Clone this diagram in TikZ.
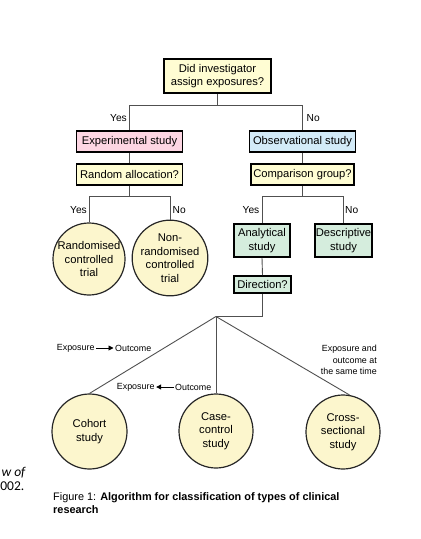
\documentclass[tikz,border=0pt]{standalone}
\usepackage{fontspec}
\setmainfont{Liberation Sans}
\newfontfamily\calibfont{Carlito}
\usetikzlibrary{arrows.meta}
\definecolor{yelfill}{HTML}{FFFDD3}
\definecolor{pinkfill}{HTML}{FDD6E3}
\definecolor{bluefill}{HTML}{D3EBF8}
\definecolor{greenfill}{HTML}{D5EDDD}
\definecolor{circfill}{HTML}{FCF6CD}
\definecolor{linecol}{HTML}{505050}
\begin{document}
\begin{tikzpicture}[x=1bp,y=-1bp,
  mainfont/.style={font=\fontsize{11.2bp}{13.5bp}\selectfont},
  qbox/.style={draw=black, line width=1.8bp, inner sep=0pt, align=center, mainfont},
  circ/.style={circle, draw=black!85, line width=1.2bp, fill=circfill, inner sep=0pt, align=center, mainfont},
  conn/.style={draw=linecol, line width=0.9bp},
  yn/.style={inner sep=0pt, font=\fontsize{10.2bp}{12bp}\selectfont},
  lab/.style={inner sep=1.5bp, font=\fontsize{8.9bp}{11.5bp}\selectfont},
  arr/.style={draw=black, line width=0.9bp, -{Triangle[length=5bp,width=5bp]}}
]
\useasboundingbox (0,0) rectangle (420,539);

% top question
\node[qbox, fill=yelfill, minimum width=107bp, minimum height=34bp] (q1) at (217.5,76) {Did investigator\\assign exposures?};
\node[qbox, fill=pinkfill, minimum width=106bp, minimum height=21bp] (exp) at (129.5,141.5) {Experimental study};
\node[qbox, fill=bluefill, minimum width=106bp, minimum height=21bp] (obs) at (302.5,141.5) {Observational study};
\node[qbox, fill=yelfill, minimum width=106bp, minimum height=21bp] (rand) at (129.5,174.5) {Random allocation?};
\node[qbox, fill=yelfill, minimum width=103bp, minimum height=21bp] (comp) at (302.5,174.5) {Comparison group?};

\coordinate (s1) at (217.5,105);
\draw[conn] (q1.south) -- (s1);
\draw[conn] (s1) -| (exp.north);
\draw[conn] (s1) -| (obs.north);
\node[yn, anchor=east] (yes1) at (127,118) {Yes};
\node[yn, anchor=west] (no1) at (306.5,118) {No};

\draw[conn] (exp.south) -- (rand.north);
\draw[conn] (obs.south) -- (comp.north);

% second level
\node[circ, minimum size=72bp] (rct) at (89,259) {Randomised\\controlled\\trial};
\node[circ, minimum size=74bp] (nrct) at (170,258) {Non-\\randomised\\controlled\\trial};
\node[qbox, fill=greenfill, minimum width=56bp, minimum height=33bp] (ana) at (262,240.5) {Analytical\\study};
\node[qbox, fill=greenfill, minimum width=57bp, minimum height=33bp] (desc) at (343.5,240.5) {Descriptive\\study};
\node[qbox, fill=greenfill, minimum width=57bp, minimum height=17bp] (dir) at (262.5,284.5) {Direction?};

\coordinate (s2) at (129.5,196);
\coordinate (s3) at (302.5,196);
\draw[conn] (rand.south) -- (s2);
\draw[conn] (s2) -| (rct.north);
\draw[conn] (s2) -| (nrct.north);
\draw[conn] (comp.south) -- (s3);
\draw[conn] (s3) -| (ana.north);
\draw[conn] (s3) -| (desc.north);
\node[yn, anchor=east] (yes2) at (87,210) {Yes};
\node[yn, anchor=west] (no2) at (172.5,210) {No};
\node[yn, anchor=east] (yes3) at (259.5,210) {Yes};
\node[yn, anchor=west] (no3) at (345,210) {No};
\draw[conn] (ana.south) -- (dir.north);

% bottom level
\node[circ, minimum size=75bp] (cohort) at (89.5,431.5) {Cohort\\study};
\node[circ, minimum size=74bp] (cc) at (216,431) {Case-\\control\\study};
\node[circ, minimum size=74bp] (cs) at (343,432) {Cross-\\sectional\\study};

\coordinate (J) at (216,316.5);
\draw[conn] (dir.south) |- (J);
\draw[conn] (J) -- (cohort.north);
\draw[conn] (J) -- (cc.north);
\draw[conn] (J) -- (cs.80);

\node[lab, anchor=west] (e1) at (55.2,348) {Exposure};
\node[lab, anchor=west] (o1) at (113.5,348) {Outcome};
\draw[arr] (e1.east) -- (o1.west);
\node[lab, anchor=west] (e2) at (115.2,387) {Exposure};
\node[lab, anchor=west] (o2) at (173.5,387) {Outcome};
\draw[arr] (o2.west) -- (e2.east);
\node[lab, anchor=east, align=right, inner sep=0pt] (same) at (377,360) {Exposure and\\outcome at\\the same time};

% caption
\node[anchor=north west, inner sep=0pt, align=left, font=\fontsize{10.9bp}{13bp}\selectfont] (cap) at (53,492) {Figure 1: \textbf{Algorithm for classification of types of clinical}\\\textbf{research}};

% cut-off text at left edge
\node[anchor=base east, inner sep=0pt, font=\calibfont\itshape\fontsize{13.5bp}{15bp}\selectfont] (cut1) at (25.5,476) {w of};
\node[anchor=base east, inner sep=0pt, font=\calibfont\fontsize{13.5bp}{15bp}\selectfont] (cut2) at (24.5,490) {002.};
\end{tikzpicture}
\end{document}
